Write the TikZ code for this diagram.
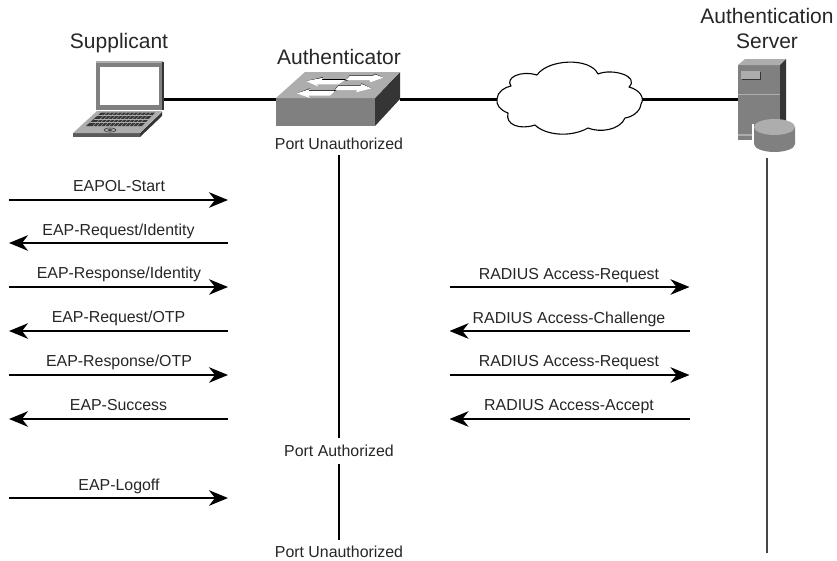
\documentclass[tikz,border=0pt]{standalone}
\usepackage{fontspec}
\setmainfont{Liberation Sans}
\usetikzlibrary{arrows.meta}
\definecolor{txt}{HTML}{262626}
\definecolor{topg}{HTML}{ADADAD}
\definecolor{midg}{HTML}{808080}
\definecolor{darkg}{HTML}{353535}
\tikzset{
  title/.style={font=\fontsize{21}{24}\selectfont,text=txt,inner sep=0pt,text height=15pt,text depth=0pt},
  lbl/.style={font=\fontsize{15.9}{18}\selectfont,text=txt,inner sep=0pt,text height=11pt,text depth=0pt},
  port/.style={lbl,minimum height=#1},
  anchorbox/.style={inner sep=0pt,minimum height=0pt,minimum width=#1},
  wire/.style={line width=3pt,black},
  msg/.style={line width=2pt,black,-{Stealth[length=19pt,width=15.5pt,inset=6pt]}},
  life/.style={line width=1.5pt,black},
  lifegray/.style={line width=2pt,black!72},
  whitearrow/.style={fill=white,draw=none},
  arrowshadow/.style={fill=black,draw=none},
}
\begin{document}
\begin{tikzpicture}[x=1pt,y=-1pt]
\useasboundingbox (0,0) rectangle (837,560);
% anchors of the devices
\node[anchorbox=68pt] (laptop) at (129.5,99) {};
\node[anchorbox=124pt] (switch) at (338,99) {};
\node[anchorbox=144pt] (cloud) at (569,99) {};
\node[anchorbox=48pt] (server) at (762,99) {};
% wires
\draw[wire] (laptop.east) -- (switch.west);
\draw[wire] (switch.east) -- (cloud.west);
\draw[wire] (cloud.east) -- (server.west);
% laptop
\fill[midg] (96,61) rectangle (163,110);
\fill[topg] (96,61) rectangle (163,63);
\fill[darkg] (162,62) rectangle (164,110);
\fill[white] (100,67) rectangle (159,105);
\fill[darkg] (140,133) -- (162,112) -- (162,116) -- (140,137) -- cycle;
\fill[midg!70!black] (73,133) rectangle (140,137);
\fill[topg] (73,133) -- (140,133) -- (162,111) -- (97,111) -- cycle;
\fill[darkg] (86,126) -- (142,126) -- (155,112.5) -- (101,112.5) -- cycle;
\draw[topg,line width=.5pt] (90,122.5) -- (146,122.5) (94,119) -- (149,119) (97,115.5) -- (152,115.5);
\foreach \k in {0,...,11}{\draw[topg,line width=.4pt] ({93+\k*4},126) -- ({107+\k*4},112.5);}
\draw[darkg,line width=.6pt] (110,130) ellipse (6pt and 2pt);
\fill[darkg] (110,130) ellipse (2.5pt and .8pt);
% switch
\fill[midg] (276,98) rectangle (375,126);
\fill[darkg] (375,98) -- (400,72) -- (400,99) -- (375,126) -- cycle;
\fill[topg] (276,98) -- (375,98) -- (400,72) -- (305,72) -- cycle;
\begin{scope}[shift={(270,65)},x=0.3333pt,y=-0.3333pt]
\fill[arrowshadow] (108,48) -- (160,36) -- (155,42) -- (228,42) -- (222,47) -- (150,47) -- cycle;
\fill[arrowshadow] (340,38) -- (315,26) -- (310,30) -- (240,30) -- (226,47) -- (232,47) -- (245,35) -- (318,35) -- cycle;
\fill[arrowshadow] (80,85) -- (120,70) -- (115,76) -- (198,76) -- (192,81) -- (118,81) -- cycle;
\fill[arrowshadow] (305,70) -- (275,55) -- (272,60) -- (205,60) -- (192,77) -- (198,77) -- (210,65) -- (280,65) -- cycle;
\fill[whitearrow] (108,48) -- (160,38) -- (155,45) -- (225,45) -- (205,58) -- (140,58) -- (145,65) -- cycle;
\fill[whitearrow] (340,38) -- (315,28) -- (310,32) -- (240,32) -- (228,45) -- (300,45) -- (300,52) -- cycle;
\fill[whitearrow] (80,85) -- (120,72) -- (115,78) -- (195,78) -- (180,92) -- (115,92) -- (120,99) -- cycle;
\fill[whitearrow] (305,70) -- (275,57) -- (272,62) -- (205,62) -- (195,75) -- (262,75) -- (258,82) -- cycle;
\end{scope}
% cloud
\draw[line width=1.1pt,black,fill=white,line join=round]
 (497,99) .. controls (497,92) and (505,87) .. (511,86)
 .. controls (505,78) and (520,70) .. (537,75)
 .. controls (548,59) and (590,57) .. (598,74)
 .. controls (612,68) and (640,76) .. (629,87)
 .. controls (640,90) and (645,98) .. (641,104)
 .. controls (640,112) and (632,117) .. (625,118)
 .. controls (620,130) and (600,133) .. (588,128)
 .. controls (570,138) and (545,135) .. (535,125)
 .. controls (520,130) and (505,125) .. (508,113)
 .. controls (500,110) and (496,105) .. (497,99) -- cycle;
% server
\fill[midg] (738,65) rectangle (780,140);
\fill[topg] (738,65) -- (745,59) -- (786,59) -- (780,65) -- cycle;
\fill[darkg] (780,65) -- (786,59) -- (786,125) -- (780,125) -- cycle;
\fill[topg] (738,93.5) rectangle (780,94.7);
\fill[topg] (738,133.5) rectangle (760,136);
\fill[darkg] (742,72) rectangle (761,80);
\fill[topg] (741,71) rectangle (760,79);
\fill[white] (752,124) rectangle (754,147);
\fill[midg] (754,127) -- (754,144) arc[start angle=180,end angle=360,x radius=20.5pt,y radius=8pt] -- (795,127) -- cycle;
\fill[topg] (774.5,127) ellipse (20.5pt and 8pt);
% titles
\node[title] (tsup) at (119,40.5) {Supplicant};
\node[title] (taut) at (339,56.5) {Authenticator};
\node[title] (tas1) at (767,16) {Authentication};
\node[title] (tas2) at (767,41) {Server};
% port labels and lifelines
\node[port=22pt] (pu1) at (339,144) {Port Unauthorized};
\node[port=26pt] (pa) at (339,451) {Port Authorized};
\node[port=24pt] (pu2) at (339,552) {Port Unauthorized};
\draw[life] (pu1.south) -- (pa.north);
\draw[life] (pa.south) -- (pu2.north);
\coordinate (sv1) at (766.5,158);
\coordinate (sv2) at (766.5,553);
\draw[lifegray] (sv1) -- (sv2);
% message end points
\foreach \n/\y in {a/200,b/243,c/287,d/331,e/375,f/419,g/498}{
  \coordinate (L\n) at (9,\y);
  \coordinate (M\n) at (228,\y);
}
\foreach \n/\y in {c/287,d/331,e/375,f/419}{
  \coordinate (P\n) at (449.5,\y);
  \coordinate (Q\n) at (689.5,\y);
}
% messages, left
\draw[msg] (La) -- (Ma);
\draw[msg] (Mb) -- (Lb);
\draw[msg] (Lc) -- (Mc);
\draw[msg] (Md) -- (Ld);
\draw[msg] (Le) -- (Me);
\draw[msg] (Mf) -- (Lf);
\draw[msg] (Lg) -- (Mg);
\node[lbl] (ta) at (119,186) {EAPOL-Start};
\node[lbl] (tb) at (118.5,230) {EAP-Request/Identity};
\node[lbl] (tc) at (119,273) {EAP-Response/Identity};
\node[lbl] (td) at (118.5,317) {EAP-Request/OTP};
\node[lbl] (te) at (119,361) {EAP-Response/OTP};
\node[lbl] (tf) at (118.5,404.5) {EAP-Success};
\node[lbl] (tg) at (119,484.5) {EAP-Logoff};
% messages, right
\draw[msg] (Pc) -- (Qc);
\draw[msg] (Qd) -- (Pd);
\draw[msg] (Pe) -- (Qe);
\draw[msg] (Qf) -- (Pf);
\node[lbl] (rc) at (569,273.5) {RADIUS Access-Request};
\node[lbl] (rd) at (569,317.5) {RADIUS Access-Challenge};
\node[lbl] (re) at (569,361) {RADIUS Access-Request};
\node[lbl] (rf) at (569,405) {RADIUS Access-Accept};
\end{tikzpicture}
\end{document}
